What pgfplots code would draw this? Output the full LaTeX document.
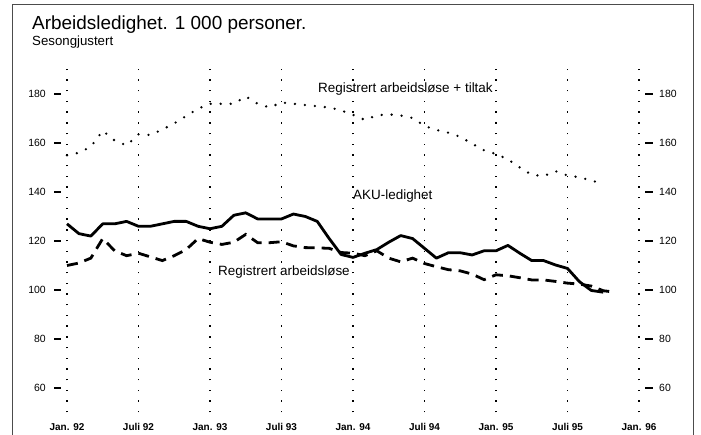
\documentclass[border=0pt]{standalone}
\usepackage{fontspec}
\setmainfont{Liberation Sans}
\usepackage{pgfplots}
\pgfplotsset{compat=1.18}
\begin{document}
\begin{tikzpicture}[x=1bp,y=1bp]
\useasboundingbox (0,0) rectangle (701,435);
\draw[line width=0.9bp, black!70] (12,-2) -- (12,431) -- (693,431) -- (693,-2);
\node[anchor=base west, inner sep=0, font=\fontsize{19}{20}\selectfont] at (32,405) {Arbeidsledighet. 1 000 personer.};
\node[anchor=base west, inner sep=0, font=\fontsize{13.3}{14}\selectfont] at (32,389) {Sesongjustert};
\begin{axis}[at={(67bp,22.5bp)}, anchor=south west, scale only axis,
  width=572bp, height=343bp, xmin=0, xmax=48, ymin=50, ymax=190,
  axis line style={draw=none}, tick style={draw=none},
  xtick={0,6,12,18,24,30,36,42,48},
  xticklabels={Jan. 92, Juli 92, Jan. 93, Juli 93, Jan. 94, Juli 94, Jan. 95, Juli 95, Jan. 96},
  xticklabel style={font=\bfseries\fontsize{10}{11}\selectfont, anchor=center, yshift=-14.5bp},
  ytick={60,80,100,120,140,160,180},
  yticklabel style={font=\fontsize{10.5}{11}\selectfont, anchor=east, inner sep=0, xshift=-21bp},
  /pgf/number format/assume math mode=true,
  xmajorgrids, major grid style={black, line width=1.4bp, dash pattern=on 1.4bp off 9.3bp},
  clip=false]
\pgfplotsinvokeforeach{60,80,100,120,140,160,180}{
  \draw[line width=1.3bp] ([xshift=-13bp]axis cs:0,#1) -- ([xshift=-6bp]axis cs:0,#1);
  \draw[line width=1.3bp] ([xshift=6bp]axis cs:48,#1) -- ([xshift=14bp]axis cs:48,#1);
}
% Registrert arbeidsloese + tiltak
\addplot[black, line width=2.6bp, line cap=round, dash pattern=on 0bp off 10bp] coordinates {
(0,155)(1,156)(2,158.5)(3,165)(4,161)(5,159)(6,163.5)(7,163.3)(8,165.5)(9,168)(10,171)(11,174)
(12,176)(13,176)(14,176)(15,179)(16,176)(17,174.5)(18,176.5)(19,176)(20,175.5)(21,175)(22,174.5)(23,173.3)
(24,171.5)(25,169.4)(26,171.3)(27,171.7)(28,171.2)(29,170.2)(30,167)(31,165.3)(32,164.2)(33,162.5)(34,159.7)(35,157)
(36,155.5)(37,153.3)(38,150)(39,147)(40,146.5)(41,148.5)(42,146.7)(43,146)(44,144.7)(45,143.3)};
% AKU-ledighet
\addplot[black, line width=2.8bp, line join=round] coordinates {
(0,127)(1,123)(2,122)(3,127)(4,127)(5,128)(6,126)(7,126)(8,127)(9,128)(10,128)(11,126)
(12,125)(13,126)(14,130.5)(15,131.5)(16,129)(17,129)(18,129)(19,131)(20,130)(21,128)(22,121)(23,114.5)
(24,113.3)(25,115)(26,116.5)(27,119.5)(28,122.2)(29,121)(30,117)(31,113)(32,115.2)(33,115.2)(34,114.3)(35,116)
(36,116)(37,118.2)(38,115)(39,112)(40,112)(41,110.2)(42,108.8)(43,103.4)(44,99.8)(45,99.1)};
% Registrert arbeidsloese
\addplot[black, line width=2.8bp, dash pattern=on 11bp off 7bp] coordinates {
(0,110)(1,111)(2,113)(3,121)(4,116)(5,114)(6,115)(7,113.5)(8,112)(9,114)(10,116.5)(11,121)
(12,119.5)(13,118.6)(14,119.5)(15,122.7)(16,119.3)(17,119.3)(18,119.7)(19,118)(20,117.3)(21,117.2)(22,117)(23,115.3)
(24,115)(25,114)(26,116)(27,113)(28,111.5)(29,113)(30,110.8)(31,109.5)(32,108.3)(33,107.8)(34,106.5)(35,104.2)
(36,106.2)(37,105.8)(38,105)(39,104.1)(40,104.1)(41,103.5)(42,102.8)(43,102.4)(44,101.6)(45,99.7)(46,99.1)};
\node[anchor=west, inner sep=0, font=\fontsize{13.5}{14}\selectfont] at (axis cs:21.06,182) {Registrert arbeidsløse + tiltak};
\node[anchor=west, inner sep=0, font=\fontsize{13.5}{14}\selectfont] at (axis cs:24.0,138.4) {AKU-ledighet};
\node[anchor=west, inner sep=0, font=\fontsize{13.5}{14}\selectfont] at (axis cs:12.67,107.3) {Registrert arbeidsløse};
\end{axis}
\begin{axis}[at={(67bp,22.5bp)}, anchor=south west, scale only axis,
  width=572bp, height=343bp, xmin=0, xmax=48, ymin=50, ymax=190,
  axis line style={draw=none}, tick style={draw=none},
  xtick=\empty, ytick={60,80,100,120,140,160,180}, yticklabel pos=right,
  yticklabel style={font=\fontsize{10.5}{11}\selectfont, anchor=west, inner sep=0, xshift=20bp},
  /pgf/number format/assume math mode=true]
\end{axis}
\end{tikzpicture}
\end{document}
